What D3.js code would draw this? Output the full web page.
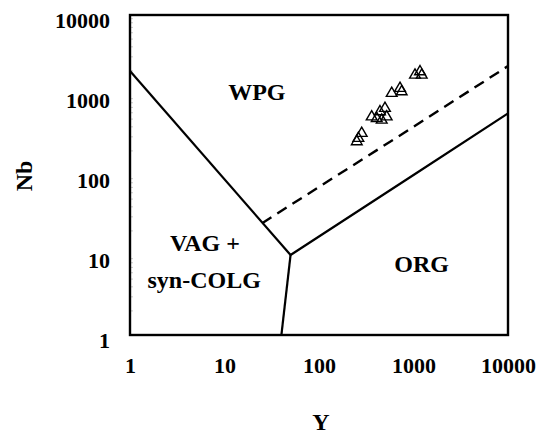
<!DOCTYPE html>
<html>
<head>
<meta charset="utf-8">
<script src="https://cdn.jsdelivr.net/npm/d3@7"></script>
<style>
  html, body { margin: 0; padding: 0; background: #fff; }
  svg { display: block; }
  text { font-family: "Liberation Serif", "Times New Roman", serif; font-weight: bold; fill: #000; }
</style>
</head>
<body>
<svg id="chart" width="550" height="436"></svg>
<script>
// ---- data ----
const xTicks = [1, 10, 100, 1000, 10000];
const yTicks = [1, 10, 100, 1000, 10000];
const sampleY  = [261, 251, 283, 361, 442, 499, 408, 520, 461, 588, 750, 720, 1037, 1222, 1172];
const sampleNb = [288, 261, 332, 535, 618, 682, 511, 535, 487, 1050, 1100, 1213, 1778, 1778, 1955];
// discrimination boundaries (Y, Nb)
const boundaryVAG   = [[1, 2000], [50, 10]];
const boundaryCOLG  = [[50, 10], [40, 1]];
const boundaryORG   = [[50, 10], [1000, 100], [10000, 590]];
const boundaryDash  = [[25, 25], [1000, 400], [10000, 2300]];
const regionLabels = [
  { text: "WPG", x: 22, y: 870 },
  { text: "ORG", x: 1220, y: 6.2 },
  { text: "VAG +", x: 6.2, y: 11.2 },
  { text: "syn-COLG", x: 6.1, y: 3.87 },
];

// ---- layout ----
const svg = d3.select("#chart");
const mLeft = 130, mRight = 508, mTop = 15, mBottom = 335;
const x = d3.scaleLog().domain([1, 10000]).range([mLeft, mRight]);
const y = d3.scaleLog().domain([1, 10000]).range([mBottom, mTop]);

// axes labels (no visible tick marks)
const xAxis = d3.axisBottom(x).tickValues(xTicks).tickFormat(d3.format("d")).tickSize(0).tickPadding(0);
const gx = svg.append("g").attr("transform", `translate(0,${mBottom})`).call(xAxis);
gx.select(".domain").remove();
gx.selectAll("text").attr("font-size", 22).attr("dy", null).attr("y", 38)
  .attr("font-family", "Liberation Serif").attr("font-weight", "bold").attr("fill", "#000");

const yAxis = d3.axisLeft(y).tickValues(yTicks).tickFormat(d3.format("d")).tickSize(0).tickPadding(0);
const gy = svg.append("g").attr("transform", `translate(${mLeft},0)`).call(yAxis);
gy.select(".domain").remove();
gy.selectAll("text").attr("font-size", 22).attr("x", -20).attr("dy", "0.38em")
  .attr("transform", "translate(0,4)")
  .attr("font-family", "Liberation Serif").attr("font-weight", "bold").attr("fill", "#000");

// faint minor ticks inside left axis
const minor = [];
for (let d = 1; d < 10000; d *= 10) for (let k = 2; k <= 9; k++) minor.push(d * k);
svg.append("g").selectAll("line").data(minor).join("line")
  .attr("x1", mLeft).attr("x2", mLeft + 3)
  .attr("y1", d => y(d)).attr("y2", d => y(d))
  .attr("stroke", "#bbb").attr("stroke-width", 0.8);

// plot frame
svg.append("rect").attr("x", mLeft).attr("y", mTop)
  .attr("width", mRight - mLeft).attr("height", mBottom - mTop)
  .attr("fill", "none").attr("stroke", "#000").attr("stroke-width", 2.4);

// boundaries
const line = d3.line().x(d => x(d[0])).y(d => y(d[1]));
[boundaryVAG, boundaryCOLG, boundaryORG].forEach(b => {
  svg.append("path").attr("d", line(b)).attr("fill", "none")
    .attr("stroke", "#000").attr("stroke-width", 2.2);
});
svg.append("path").attr("d", line(boundaryDash)).attr("fill", "none")
  .attr("stroke", "#000").attr("stroke-width", 2.4).attr("stroke-dasharray", "11,7");

// region labels
regionLabels.forEach(r => {
  svg.append("text").attr("x", x(r.x)).attr("y", y(r.y))
    .attr("text-anchor", "middle").attr("font-size", 24).text(r.text);
});

// samples: open triangles
const tri = d3.symbol().type(d3.symbolTriangle).size(50);
svg.append("g").selectAll("path").data(sampleY.map((v, i) => [v, sampleNb[i]])).join("path")
  .attr("d", tri)
  .attr("transform", d => `translate(${x(d[0])},${y(d[1])})`)
  .attr("fill", "none").attr("stroke", "#000").attr("stroke-width", 1.4);

// axis titles
svg.append("text").attr("x", 321).attr("y", 430).attr("text-anchor", "middle")
  .attr("font-size", 24).text("Y");
svg.append("text").attr("transform", "translate(32,176) rotate(-90)")
  .attr("text-anchor", "middle").attr("font-size", 24).text("Nb");
</script>
</body>
</html>
